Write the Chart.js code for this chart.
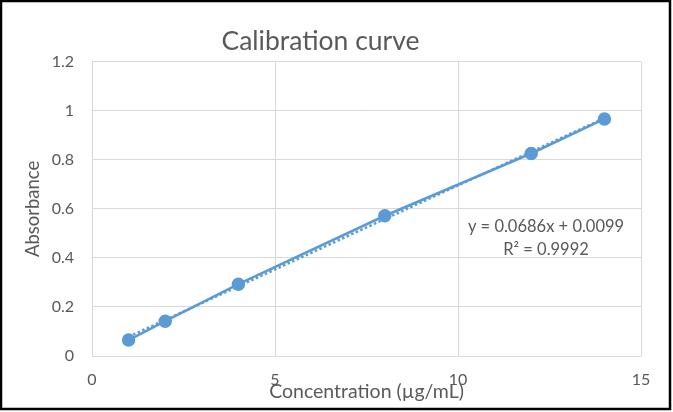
<!DOCTYPE html>
<html>
<head>
<meta charset="utf-8">
<script src="https://cdn.jsdelivr.net/npm/chart.js@4/dist/chart.umd.min.js"></script>
<style>
  html, body { margin: 0; padding: 0; background: #fff; }
  #wrap { width: 673px; height: 412px; position: relative; }
</style>
</head>
<body>
<div id="wrap"><canvas id="chart" width="673" height="412"></canvas></div>
<script>
// data
const concentration = [1, 2, 4, 8, 12, 14];
const absorbance = [0.065, 0.142, 0.293, 0.572, 0.826, 0.967];

// linear trendline (Excel), drawn over the data range
const trendX = [1, 14];
const trendY = [0.0785, 0.9703];
const equationText = 'y = 0.0686x + 0.0099';
const r2Text = 'R\u00b2 = 0.9992';

const xTicks = [0, 5, 10, 15];
const yTicks = [0, 0.2, 0.4, 0.6, 0.8, 1, 1.2];

const blue = '#5B9BD5';
const gray = '#595959';
const fontFamily = "Lato, 'Open Sans', sans-serif";

// frame + white background
const framePlugin = {
    id: 'frame',
    beforeDraw(chart) {
        const ctx = chart.ctx;
        ctx.save();
        ctx.fillStyle = '#fff';
        ctx.fillRect(0, 0, chart.width, chart.height);
        ctx.restore();
    },
    afterDraw(chart) {
        const ctx = chart.ctx;
        ctx.save();
        ctx.strokeStyle = '#000';
        ctx.lineWidth = 2.5;
        ctx.strokeRect(1, 1, 669, 408);
        ctx.restore();
    }
};

// trendline label
const labelPlugin = {
    id: 'trendLabel',
    afterDatasetsDraw(chart) {
        const ctx = chart.ctx;
        ctx.save();
        ctx.fillStyle = gray;
        ctx.font = '16.5px ' + fontFamily;
        ctx.textAlign = 'center';
        ctx.textBaseline = 'middle';
        ctx.fillText(equationText, 546, 227);
        ctx.fillText(r2Text, 546, 250);
        ctx.restore();
    }
};

new Chart(document.getElementById('chart'), {
    type: 'scatter',
    data: {
        datasets: [
            {
                label: 'Absorbance',
                data: concentration.map((x, i) => ({ x: x, y: absorbance[i] })),
                showLine: true,
                borderColor: blue,
                backgroundColor: blue,
                borderWidth: 2.5,
                pointRadius: 5.5,
                pointHoverRadius: 5.5,
                order: 1
            },
            {
                label: 'Linear',
                data: trendX.map((x, i) => ({ x: x, y: trendY[i] })),
                showLine: true,
                borderColor: blue,
                borderWidth: 2.5,
                borderDash: [2.5, 2.5],
                pointRadius: 0,
                order: 2
            }
        ]
    },
    options: {
        responsive: false,
        animation: false,
        layout: { padding: { left: 0, right: 32, top: 0, bottom: 0 } },
        plugins: {
            legend: { display: false },
            tooltip: { enabled: false },
            title: {
                display: true,
                text: 'Calibration curve',
                color: gray,
                font: { family: fontFamily, size: 26.5, weight: 'normal', lineHeight: 1.2 },
                padding: { top: 26, bottom: 4 }
            }
        },
        scales: {
            x: {
                type: 'linear',
                min: 0,
                max: 15,
                afterBuildTicks: (scale) => { scale.ticks = xTicks.map(v => ({ value: v })); },
                afterFit: (scale) => { scale.height = 56; },
                grid: { color: '#d9d9d9', lineWidth: 1, drawTicks: false },
                border: { display: false },
                ticks: {
                    color: gray,
                    font: { family: fontFamily, size: 16 },
                    padding: 14
                },
                title: {
                    display: true,
                    text: 'Concentration (\u00b5g/mL)',
                    color: gray,
                    font: { family: fontFamily, size: 19.5 },
                    padding: { top: 0, bottom: 9 }
                }
            },
            y: {
                type: 'linear',
                min: 0,
                max: 1.2,
                afterBuildTicks: (scale) => { scale.ticks = yTicks.map(v => ({ value: v })); },
                afterFit: (scale) => { scale.width = 92; },
                grid: { color: '#d9d9d9', lineWidth: 1, drawTicks: false },
                border: { display: false },
                ticks: {
                    color: gray,
                    font: { family: fontFamily, size: 16 },
                    padding: 18,
                    callback: (v) => String(Math.round(v * 10) / 10)
                },
                title: {
                    display: true,
                    text: 'Absorbance',
                    color: gray,
                    font: { family: fontFamily, size: 18.5 },
                    padding: { top: 22, bottom: 0 }
                }
            }
        }
    },
    plugins: [framePlugin, labelPlugin]
});
</script>
</body>
</html>
